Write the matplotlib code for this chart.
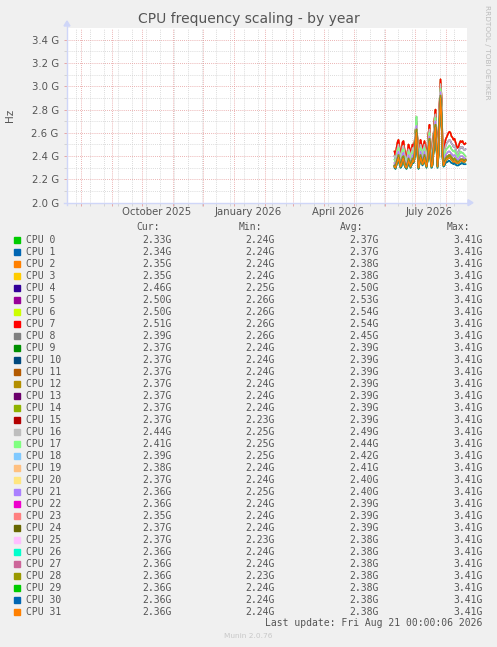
import datetime as dt

import matplotlib
matplotlib.use('Agg')
import matplotlib.pyplot as plt
import matplotlib.dates as mdates
import matplotlib.transforms as mtransforms
from matplotlib.lines import Line2D
from matplotlib.patches import Polygon, Rectangle
import pandas as pd

W, H = 497, 647

# Munin default palette (wraps after 29 colours)
COLOURS = ['#00CC00', '#0066B3', '#FF8000', '#FFCC00', '#330099', '#990099',
           '#CCFF00', '#FF0000', '#808080', '#008F00', '#00487D', '#B35A00',
           '#B38F00', '#6B006B', '#8FB300', '#B30000', '#BEBEBE', '#80FF80',
           '#80C9FF', '#FFC080', '#FFE680', '#AA80FF', '#EE00CC', '#FF8080',
           '#666600', '#FFBFFF', '#00FFCC', '#CC6699', '#999900']

# daily samples, 2026-06-11 .. 2026-08-21 (GHz)
days = pd.date_range('2026-06-11', '2026-08-21', freq='D')

top = [2.44, 2.40, 2.47, 2.52, 2.54, 2.48, 2.42, 2.45, 2.52, 2.53,
       2.46, 2.41, 2.38, 2.44, 2.50, 2.47, 2.42, 2.46, 2.50, 2.48,
       2.52, 2.62, 2.68, 2.55, 2.38, 2.46, 2.54, 2.50, 2.46, 2.49,
       2.53, 2.47, 2.42, 2.50, 2.60, 2.67, 2.52, 2.40, 2.46, 2.58,
       2.72, 2.80, 2.62, 2.38, 2.55, 2.85, 3.06, 2.92, 2.55, 2.40,
       2.48, 2.54, 2.56, 2.58, 2.60, 2.61, 2.60, 2.57, 2.56, 2.54,
       2.55, 2.52, 2.49, 2.47, 2.48, 2.51, 2.53, 2.52, 2.53, 2.51,
       2.50, 2.51]
high = [2.40, 2.37, 2.43, 2.47, 2.50, 2.45, 2.39, 2.42, 2.48, 2.49,
        2.43, 2.38, 2.36, 2.41, 2.46, 2.44, 2.39, 2.43, 2.47, 2.45,
        2.49, 2.60, 2.70, 2.52, 2.36, 2.43, 2.50, 2.47, 2.43, 2.46,
        2.50, 2.44, 2.39, 2.47, 2.57, 2.63, 2.49, 2.38, 2.43, 2.55,
        2.69, 2.76, 2.58, 2.36, 2.52, 2.82, 3.02, 2.88, 2.52, 2.38,
        2.44, 2.49, 2.51, 2.52, 2.53, 2.54, 2.53, 2.51, 2.50, 2.48,
        2.49, 2.47, 2.44, 2.42, 2.43, 2.46, 2.48, 2.47, 2.48, 2.46,
        2.45, 2.46]
upper_mid = [2.37, 2.35, 2.40, 2.44, 2.47, 2.42, 2.37, 2.39, 2.45, 2.46,
             2.40, 2.36, 2.34, 2.39, 2.44, 2.41, 2.37, 2.40, 2.44, 2.43,
             2.47, 2.62, 2.74, 2.50, 2.34, 2.41, 2.47, 2.44, 2.40, 2.43,
             2.47, 2.41, 2.37, 2.44, 2.54, 2.60, 2.46, 2.36, 2.40, 2.52,
             2.66, 2.73, 2.55, 2.35, 2.49, 2.78, 2.98, 2.84, 2.49, 2.36,
             2.40, 2.45, 2.46, 2.47, 2.48, 2.49, 2.48, 2.46, 2.45, 2.44,
             2.45, 2.43, 2.41, 2.39, 2.40, 2.42, 2.44, 2.43, 2.43, 2.42,
             2.41, 2.40]
mid = [2.34, 2.32, 2.37, 2.41, 2.44, 2.39, 2.34, 2.36, 2.42, 2.43,
       2.37, 2.33, 2.32, 2.36, 2.41, 2.38, 2.34, 2.37, 2.41, 2.40,
       2.44, 2.58, 2.66, 2.47, 2.32, 2.38, 2.44, 2.41, 2.37, 2.40,
       2.44, 2.38, 2.34, 2.41, 2.51, 2.57, 2.43, 2.34, 2.37, 2.49,
       2.63, 2.70, 2.52, 2.33, 2.46, 2.75, 2.95, 2.80, 2.45, 2.34,
       2.37, 2.41, 2.42, 2.43, 2.44, 2.44, 2.43, 2.42, 2.41, 2.40,
       2.41, 2.40, 2.38, 2.37, 2.37, 2.39, 2.40, 2.40, 2.40, 2.39,
       2.38, 2.38]
lower_mid = [2.32, 2.31, 2.35, 2.38, 2.41, 2.37, 2.32, 2.34, 2.39, 2.40,
             2.35, 2.32, 2.31, 2.34, 2.38, 2.36, 2.32, 2.35, 2.38, 2.37,
             2.41, 2.55, 2.63, 2.44, 2.31, 2.36, 2.41, 2.38, 2.35, 2.37,
             2.41, 2.36, 2.32, 2.38, 2.48, 2.55, 2.40, 2.32, 2.35, 2.46,
             2.60, 2.67, 2.49, 2.32, 2.43, 2.72, 2.92, 2.77, 2.42, 2.33,
             2.35, 2.38, 2.39, 2.40, 2.40, 2.41, 2.40, 2.39, 2.38, 2.37,
             2.38, 2.37, 2.36, 2.35, 2.35, 2.36, 2.37, 2.37, 2.37, 2.37,
             2.36, 2.37]
low = [2.31, 2.30, 2.33, 2.36, 2.39, 2.35, 2.31, 2.33, 2.37, 2.38,
       2.33, 2.31, 2.30, 2.33, 2.36, 2.34, 2.31, 2.33, 2.36, 2.35,
       2.39, 2.52, 2.60, 2.42, 2.30, 2.34, 2.39, 2.36, 2.33, 2.35,
       2.39, 2.34, 2.31, 2.36, 2.46, 2.53, 2.38, 2.31, 2.33, 2.44,
       2.58, 2.65, 2.47, 2.31, 2.41, 2.70, 2.90, 2.75, 2.40, 2.32,
       2.34, 2.36, 2.37, 2.38, 2.38, 2.39, 2.38, 2.37, 2.36, 2.35,
       2.36, 2.35, 2.34, 2.34, 2.34, 2.35, 2.36, 2.36, 2.36, 2.35,
       2.35, 2.36]
bottom = [2.30, 2.29, 2.32, 2.35, 2.37, 2.33, 2.30, 2.31, 2.35, 2.36,
          2.32, 2.30, 2.29, 2.31, 2.34, 2.33, 2.30, 2.32, 2.35, 2.34,
          2.37, 2.50, 2.58, 2.40, 2.29, 2.33, 2.37, 2.35, 2.32, 2.34,
          2.37, 2.33, 2.30, 2.35, 2.44, 2.51, 2.36, 2.30, 2.32, 2.42,
          2.56, 2.63, 2.45, 2.30, 2.39, 2.68, 2.88, 2.73, 2.38, 2.31,
          2.32, 2.34, 2.35, 2.35, 2.36, 2.36, 2.35, 2.34, 2.34, 2.33,
          2.34, 2.33, 2.32, 2.32, 2.32, 2.33, 2.33, 2.34, 2.34, 2.33,
          2.33, 2.33]

# which of the series above each CPU follows
cpu_series = [bottom, bottom, low, low, high, top, top, top,
              upper_mid, lower_mid, lower_mid, lower_mid, lower_mid, lower_mid, lower_mid, lower_mid,
              high, upper_mid, mid, mid, mid, mid, lower_mid, lower_mid,
              lower_mid, lower_mid, lower_mid, lower_mid, lower_mid, low, low, low]

cur = [2.33, 2.34, 2.35, 2.35, 2.46, 2.50, 2.50, 2.51, 2.39, 2.37, 2.37, 2.37,
       2.37, 2.37, 2.37, 2.37, 2.44, 2.41, 2.39, 2.38, 2.37, 2.36, 2.36, 2.35,
       2.37, 2.37, 2.36, 2.36, 2.36, 2.36, 2.36, 2.36]
mins = [2.24, 2.24, 2.24, 2.24, 2.25, 2.26, 2.26, 2.26, 2.26, 2.24, 2.24, 2.24,
        2.24, 2.24, 2.24, 2.23, 2.25, 2.25, 2.25, 2.24, 2.24, 2.25, 2.24, 2.24,
        2.24, 2.23, 2.24, 2.24, 2.23, 2.24, 2.24, 2.24]
avgs = [2.37, 2.37, 2.38, 2.38, 2.50, 2.53, 2.54, 2.54, 2.45, 2.39, 2.39, 2.39,
        2.39, 2.39, 2.39, 2.39, 2.49, 2.44, 2.42, 2.41, 2.40, 2.40, 2.39, 2.39,
        2.39, 2.38, 2.38, 2.38, 2.38, 2.38, 2.38, 2.38]
maxs = [3.41] * 32

month_labels = ['October 2025', 'January 2026', 'April 2026', 'July 2026']
month_label_dates = ['2025-10-16', '2026-01-16', '2026-04-16', '2026-07-16']

FONT = '#555555'
AXIS = '#CFD6F8'
MGRID = '#E59A9A'
GRID = '#CFCFCF'


def px(x, y):
    """pixel (from top-left) -> figure fraction"""
    return x / W, 1 - y / H


fig = plt.figure(figsize=(W / 100, H / 100), dpi=100, facecolor='#F0F0F0')
left, top_px, right, bot_px = 67, 28, 467, 202.7
ax = fig.add_axes([left / W, 1 - bot_px / H, (right - left) / W, (bot_px - top_px) / H])
ax.set_facecolor('white')

for i in range(32):
    ax.plot(days, cpu_series[i], color=COLOURS[i % len(COLOURS)], lw=1.1, zorder=3)

ax.set_xlim(dt.datetime(2025, 7, 18, 12), dt.datetime(2026, 8, 22, 12))
ax.set_ylim(2.0, 3.5)

ax.set_xticks(pd.date_range('2025-08-01', '2026-08-01', freq='MS'))
ax.set_xticks(pd.date_range('2025-07-27', '2026-08-22', freq='14D'), minor=True)
ax.set_xticklabels([])
yt = [2.0 + 0.2 * k for k in range(8)]
ax.set_yticks(yt)
ax.set_yticklabels([f'{v:.1f} G' for v in yt])
ax.set_yticks([2.1 + 0.2 * k for k in range(7)], minor=True)

ax.grid(True, which='major', color=MGRID, lw=0.6, ls=(0, (1, 1.5)), zorder=1)
ax.grid(True, which='minor', color=GRID, lw=0.6, ls=(0, (1, 1.5)), zorder=0)
ax.tick_params(axis='both', which='major', length=2, width=0.6, color=MGRID,
               labelsize=7.3, labelcolor=FONT, pad=4)
ax.tick_params(axis='both', which='minor', length=2, width=0.6, color=GRID)
for s in ax.spines.values():
    s.set_visible(False)

# month labels centred in the month
trans = mtransforms.blended_transform_factory(ax.transData, fig.transFigure)
for lab, d in zip(month_labels, month_label_dates):
    fig.text(mdates.date2num(pd.Timestamp(d)), px(0, 212.3)[1], lab, transform=trans,
             ha='center', va='center', fontsize=7.3, color=FONT)

# axis lines with arrows
fig.add_artist(Line2D([px(64, 0)[0], px(469, 0)[0]], [px(0, bot_px)[1]] * 2, color=AXIS, lw=1))
fig.add_artist(Line2D([px(left, 0)[0]] * 2, [px(0, 205)[1], px(0, 25)[1]], color=AXIS, lw=1))
fig.add_artist(Polygon([px(468, 199.7), px(468, 205.7), px(473, 202.7)], closed=True,
                       color=AXIS, transform=fig.transFigure))
fig.add_artist(Polygon([px(64, 26), px(70, 26), px(67, 21)], closed=True,
                       color=AXIS, transform=fig.transFigure))

fig.text(*px(248.5, 19), 'CPU frequency scaling - by year', ha='center', va='center',
         fontsize=10, color=FONT)
fig.text(*px(10, 115), 'Hz', ha='center', va='center', rotation=90, fontsize=7.5, color=FONT)
fig.text(*px(487.5, 5), 'RRDTOOL / TOBI OETIKER', ha='center', va='top', rotation=270,
         fontsize=5.3, color='#BBBBBB')

# legend table
mono = dict(family='DejaVu Sans Mono', fontsize=7.0, color=FONT)
head_y = 227.3
for lab, x in zip(['Cur:', 'Min:', 'Avg:', 'Max:'], [136, 239, 340, 447]):
    fig.text(*px(x, head_y), lab, ha='left', va='center', **mono)

for i in range(32):
    y = 239.7 + 12 * i
    fig.add_artist(Rectangle(px(14, y + 3), 6 / W, 6 / H, color=COLOURS[i % len(COLOURS)],
                             transform=fig.transFigure))
    fig.text(*px(26, y), f'CPU {i}', ha='left', va='center', **mono)
    for vals, xr in zip([cur, mins, avgs, maxs], [171.3, 275, 379, 482.7]):
        fig.text(*px(xr, y), f'{vals[i]:.2f}G', ha='right', va='center', **mono)

fig.text(*px(482.7, 623.5), 'Last update: Fri Aug 21 00:00:06 2026', ha='right', va='center', **mono)
fig.text(*px(248.5, 636), 'Munin 2.0.76', ha='center', va='center', fontsize=5.3, color='#C8C8C8')

fig.savefig('out.png', dpi=100, facecolor=fig.get_facecolor())
